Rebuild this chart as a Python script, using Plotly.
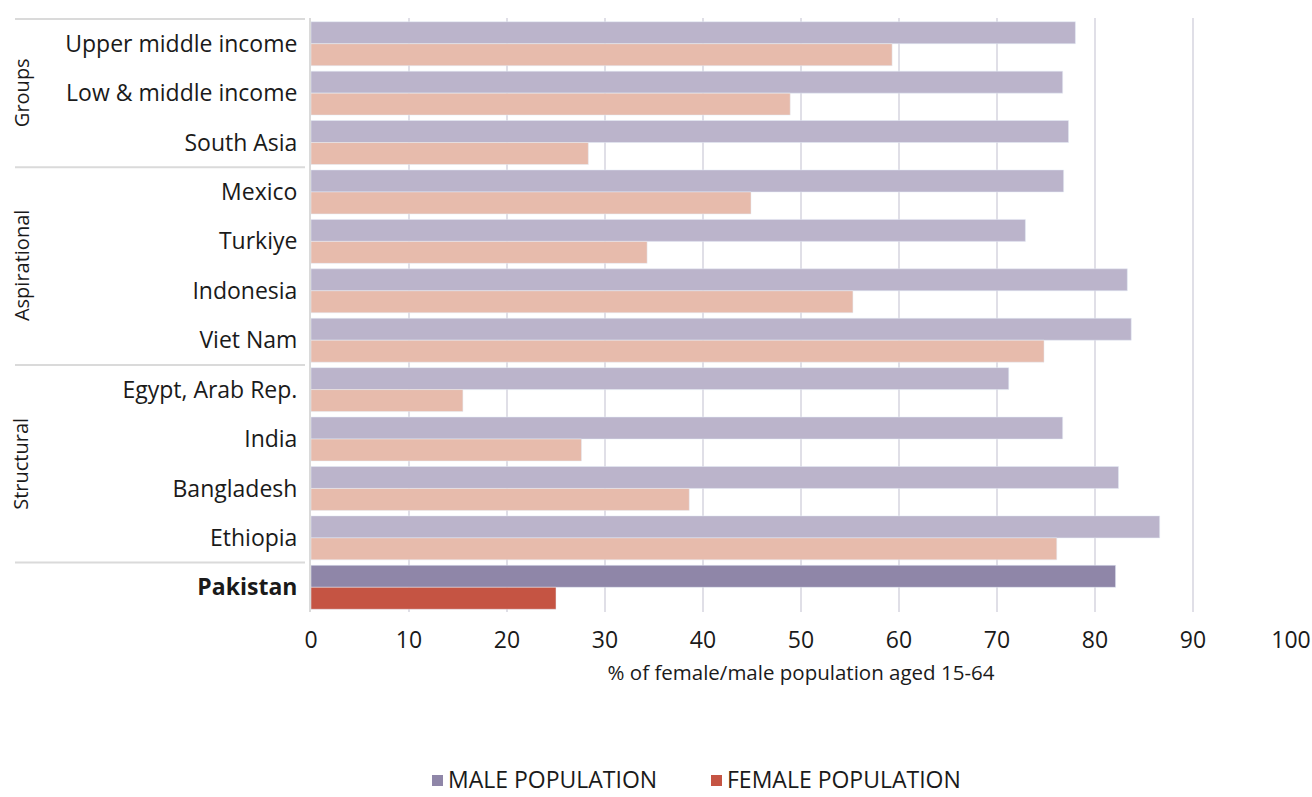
import plotly.graph_objects as go

# Labour force participation, % of female/male population aged 15-64
categories = [
    "Upper middle income", "Low & middle income", "South Asia",
    "Mexico", "Turkiye", "Indonesia", "Viet Nam",
    "Egypt, Arab Rep.", "India", "Bangladesh", "Ethiopia",
    "Pakistan",
]
male = [78.0, 76.7, 77.3, 76.8, 72.9, 83.3, 83.7, 71.2, 76.7, 82.4, 86.6, 82.1]
female = [59.3, 48.9, 28.3, 44.9, 34.3, 55.3, 74.8, 15.5, 27.6, 38.6, 76.1, 25.0]

# Comparator blocks: (label, first index, last index)
blocks = [("Groups", 0, 2), ("Aspirational", 3, 6), ("Structural", 7, 10)]
focus = "Pakistan"
legend_names = ["MALE POPULATION", "FEMALE POPULATION"]

MALE_LIGHT, FEMALE_LIGHT = "#BBB4CB", "#E7BBAC"
MALE_DARK, FEMALE_DARK = "#8F86A8", "#C55443"
GRID = "#E0DFE7"
TEXT = "#1A1A1A"
FONT = "Open Sans, Noto Sans, sans-serif"

W, H = 1312, 797
ML, MR, MT, MB = 311, 21, 18, 185
PW, PH = W - ML - MR, H - MT - MB


def px_x(px):
    """Pixel column -> paper x."""
    return (px - ML) / PW


def px_y(py):
    """Pixel row -> paper y."""
    return (H - MB - py) / PH


others = [i for i, c in enumerate(categories) if c != focus]
fi = categories.index(focus)

fig = go.Figure()
fig.add_trace(go.Bar(
    y=[categories[i] for i in others], x=[male[i] for i in others],
    orientation="h", marker_color=MALE_LIGHT, offsetgroup="m",
    name=legend_names[0], hoverinfo="x+y",
))
fig.add_trace(go.Bar(
    y=[categories[i] for i in others], x=[female[i] for i in others],
    orientation="h", marker_color=FEMALE_LIGHT, offsetgroup="f",
    name=legend_names[1], hoverinfo="x+y",
))
fig.add_trace(go.Bar(
    y=[categories[fi]], x=[male[fi]], orientation="h",
    marker_color=MALE_DARK, offsetgroup="m", name=legend_names[0],
    hoverinfo="x+y",
))
fig.add_trace(go.Bar(
    y=[categories[fi]], x=[female[fi]], orientation="h",
    marker_color=FEMALE_DARK, offsetgroup="f", name=legend_names[1],
    hoverinfo="x+y",
))

ticktext = [f"<b>{c}</b>" if c == focus else c for c in categories]

# Block separators in the label column and rotated block titles
seps = [-0.5] + [b[2] + 0.5 for b in blocks]
for s in seps:
    fig.add_shape(type="line", xref="paper", yref="y",
                  x0=px_x(15), x1=px_x(305), y0=s, y1=s,
                  line=dict(color="#DADADA", width=2))
for name, a, b in blocks:
    fig.add_annotation(text=name, xref="paper", yref="y",
                       x=px_x(21), y=(a + b) / 2, xanchor="center",
                       yanchor="middle", textangle=-90, showarrow=False,
                       font=dict(size=20, color=TEXT, family=FONT))

# Legend row below the axis title
legend_items = [(legend_names[0], MALE_DARK, 432), (legend_names[1], FEMALE_DARK, 711)]
for label, color, x0 in legend_items:
    fig.add_shape(type="rect", xref="paper", yref="paper",
                  x0=px_x(x0), x1=px_x(x0 + 11),
                  y0=px_y(786), y1=px_y(775),
                  fillcolor=color, line=dict(width=0))
    fig.add_annotation(text=label, xref="paper", yref="paper",
                       x=px_x(x0 + 15), y=px_y(779), xanchor="left",
                       yanchor="middle", showarrow=False, borderpad=0,
                       font=dict(size=23, color=TEXT, family=FONT))

fig.update_layout(
    width=W, height=H,
    margin=dict(l=ML, r=MR, t=MT, b=MB),
    barmode="group", bargap=0.11, bargroupgap=0,
    showlegend=False,
    plot_bgcolor="white", paper_bgcolor="white",
    font=dict(family=FONT, color=TEXT, size=23),
    xaxis=dict(range=[0, 100], dtick=10, showgrid=True, gridcolor=GRID,
               gridwidth=2, zeroline=False, showline=False, automargin=False,
               ticks="outside", ticklen=7, tickcolor="rgba(0,0,0,0)",
               tickfont=dict(size=23, color=TEXT, family=FONT),
               title=dict(text="% of female/male population aged 15-64",
                          font=dict(size=20.5, color=TEXT, family=FONT),
                          standoff=12)),
    yaxis=dict(categoryorder="array", categoryarray=categories,
               tickmode="array", tickvals=categories, ticktext=ticktext,
               autorange="reversed", showgrid=False, showline=True,
               linecolor="#DADADA", linewidth=2, automargin=False,
               ticks="outside", ticklen=7, tickcolor="rgba(0,0,0,0)",
               tickfont=dict(size=23, color=TEXT, family=FONT)),
)

fig.write_html("out.html")
